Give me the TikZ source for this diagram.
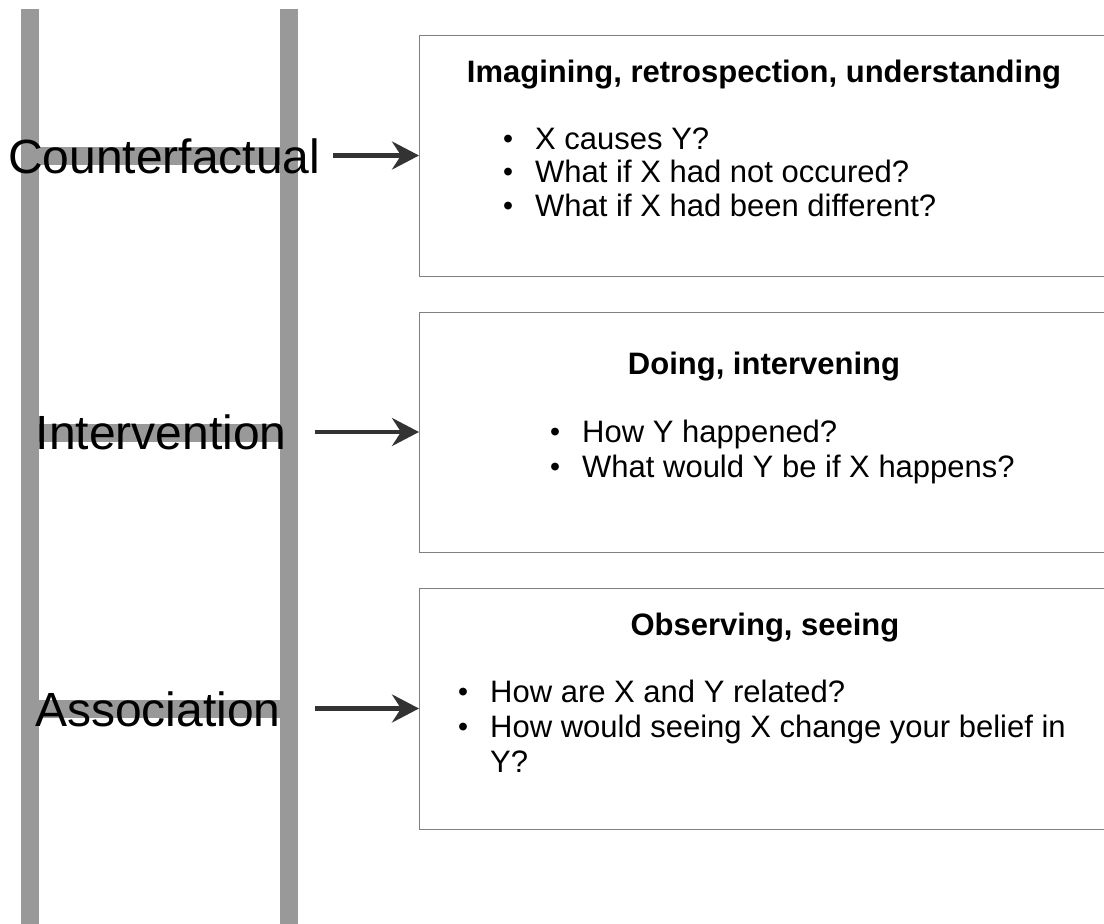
\documentclass[tikz,border=0pt]{standalone}
\usepackage{fontspec}
\setmainfont{Liberation Sans}
\usetikzlibrary{arrows.meta}
\definecolor{railc}{HTML}{999999}
\definecolor{arrowc}{HTML}{333333}
\definecolor{boxline}{HTML}{808080}
\tikzset{
  railpart/.style={fill=railc, draw=none},
  lvl/.style={anchor=base west, inner sep=0pt, font=\fontsize{48}{56}\selectfont},
  qbox/.style={draw=boxline, line width=1.4pt, fill=white, rectangle, inner sep=0pt, anchor=north west, minimum width=700pt},
  ttl/.style={anchor=base, inner sep=0pt, font=\fontsize{31}{36}\selectfont\bfseries},
  itm/.style={anchor=base west, inner sep=0pt, font=\fontsize{31}{36}\selectfont},
  conn/.style={draw=arrowc, line width=4.2pt, -{Stealth[length=27pt,width=28pt,inset=9pt]}},
}
\newcommand{\bul}{\llap{\makebox[54pt]{\raisebox{1pt}{\fontsize{28.5}{28}\selectfont •}}}}
\begin{document}
\begin{tikzpicture}[x=1pt,y=-1pt]
\useasboundingbox (0,0) rectangle (1104,924);
% ladder
\fill[railpart] (21,9) rectangle (39,924);
\fill[railpart] (280,9) rectangle (298,924);
\fill[railpart] (39,147) rectangle (280,165);
\fill[railpart] (39,424) rectangle (280,442);
\fill[railpart] (39,700) rectangle (280,718);
% level labels
\node[lvl] (cf) at (8,173) {Counterfactual};
\node[lvl] (iv) at (35.5,449) {Intervention};
\node[lvl] (as) at (35,726) {Association};
% boxes
\node[qbox, minimum height=241pt] (box1) at (419,35) {};
\node[qbox, minimum height=240pt] (box2) at (419,312) {};
\node[qbox, minimum height=241pt] (box3) at (419,588) {};
% box 1 text
\node[ttl] (t1) at (764,82) {Imagining, retrospection, understanding};
\node[itm] (b1a) at (535,149) {\bul X causes Y?};
\node[itm] (b1b) at (535,182.5) {\bul What if X had not occured?};
\node[itm] (b1c) at (535,216) {\bul What if X had been different?};
% box 2 text
\node[ttl] (t2) at (764,374) {Doing, intervening};
\node[itm] (b2a) at (582,442) {\bul How Y happened?};
\node[itm] (b2b) at (582,477) {\bul What would Y be if X happens?};
% box 3 text
\node[ttl] (t3) at (765,635) {Observing, seeing};
\node[itm] (b3a) at (490,702) {\bul How are X and Y related?};
\node[itm] (b3b) at (490,737) {\bul How would seeing X change your belief in};
\node[itm] (b3c) at (490,772) {Y?};
% arrows
\coordinate (s1) at (333,155.5);
\coordinate (s2) at (315,432);
\coordinate (s3) at (315,708.5);
\draw[conn] (s1) -- (s1 -| box1.west);
\draw[conn] (s2) -- (s2 -| box2.west);
\draw[conn] (s3) -- (s3 -| box3.west);
\end{tikzpicture}
\end{document}
